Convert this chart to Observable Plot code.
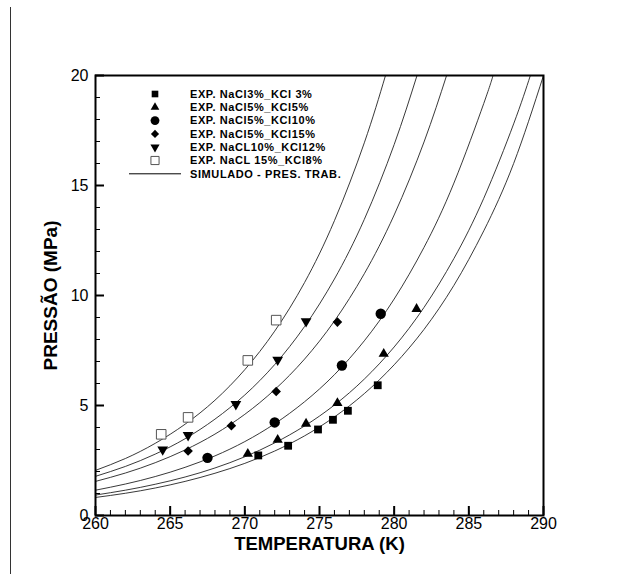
<!DOCTYPE html>
<html><head><meta charset="utf-8">
<script src="https://cdn.jsdelivr.net/npm/d3@7"></script>
<script src="https://cdn.jsdelivr.net/npm/@observablehq/plot@0.6"></script>
<style>
body{margin:0;background:#fff;}
#wrap{position:relative;width:640px;height:574px;overflow:hidden;}
#edge{position:absolute;left:10px;top:7px;width:1px;height:567px;background:#333;z-index:2;}
#chart{position:absolute;left:0;top:0;z-index:1;}
</style></head><body><div id="wrap"><div id="chart"></div><div id="edge"></div></div>
<script>
// ---- axis ticks ----
const xTicks = [260, 265, 270, 275, 280, 285, 290];
const yTicks = [0, 5, 10, 15, 20];
const xMinor = d3.range(260, 291, 1);
const yMinor = d3.range(0, 21, 1);

// ---- legend labels ----
const seriesLabels = [
  "EXP. NaCl3%_KCl 3%",
  "EXP. NaCl5%_KCl5%",
  "EXP. NaCl5%_KCl10%",
  "EXP. NaCl5%_KCl15%",
  "EXP. NaCL10%_KCl12%",
  "EXP. NaCL 15%_KCl8%"
];
const simLabel = "SIMULADO - PRES. TRAB.";

// ---- experimental points (T in K, P in MPa) ----
const T_s1 = [270.9, 272.9, 274.9, 275.9, 276.9, 278.9];
const P_s1 = [2.73, 3.17, 3.91, 4.35, 4.76, 5.92];
const T_s2 = [270.2, 272.2, 274.1, 276.2, 279.3, 281.5];
const P_s2 = [2.80, 3.44, 4.17, 5.11, 7.35, 9.39];
const T_s3 = [267.5, 272.0, 276.5, 279.1];
const P_s3 = [2.62, 4.23, 6.82, 9.17];
const T_s4 = [266.2, 269.1, 272.1, 276.2];
const P_s4 = [2.93, 4.08, 5.64, 8.79];
const T_s5 = [264.5, 266.2, 269.4, 272.2, 274.1];
const P_s5 = [3.00, 3.65, 5.06, 7.08, 8.83];
const T_s6 = [264.4, 266.2, 270.2, 272.1];
const P_s6 = [3.69, 4.46, 7.05, 8.88];

// ---- simulated curves ----
const simT_6 = [260, 262, 264, 266, 268, 270, 272, 274, 276, 278, 279.42];
const simP_6 = [2.05, 2.59, 3.28, 4.15, 5.24, 6.63, 8.38, 10.59, 13.40, 16.94, 20.0];
const simT_5 = [260, 262, 264, 266, 268, 270, 272, 274, 276, 278, 280, 281.53];
const simP_5 = [1.78, 2.23, 2.79, 3.49, 4.38, 5.48, 6.86, 8.59, 10.75, 13.46, 16.86, 20.0];
const simT_4 = [260, 262, 264, 266, 268, 270, 272, 274, 276, 278, 280, 282, 283.51];
const simP_4 = [1.55, 1.93, 2.40, 2.98, 3.70, 4.60, 5.72, 7.11, 8.84, 10.99, 13.66, 16.98, 20.0];
const simT_3 = [260, 262, 264, 266, 268, 270, 272, 274, 276, 278, 280, 282, 284, 286, 286.62];
const simP_3 = [1.15, 1.43, 1.77, 2.19, 2.71, 3.36, 4.17, 5.17, 6.40, 7.94, 9.84, 12.19, 15.11, 18.73, 20.0];
const simT_2 = [260, 262, 264, 266, 268, 270, 272, 274, 276, 278, 280, 282, 284, 286, 288, 289.12];
const simP_2 = [0.93, 1.15, 1.42, 1.75, 2.16, 2.67, 3.30, 4.07, 5.02, 6.20, 7.66, 9.46, 11.68, 14.42, 17.80, 20.0];
const simT_1 = [260, 262, 264, 266, 268, 270, 272, 274, 276, 278, 280, 282, 284, 286, 288, 290];
const simP_1 = [0.82, 1.01, 1.25, 1.55, 1.92, 2.37, 2.93, 3.62, 4.48, 5.54, 6.85, 8.46, 10.46, 12.94, 16.00, 20.0];

// ---- build tables ----
const pts = (T, P) => T.map((t, i) => ({T: t, P: P[i]}));
const expSets = [pts(T_s1, P_s1), pts(T_s2, P_s2), pts(T_s3, P_s3), pts(T_s4, P_s4), pts(T_s5, P_s5), pts(T_s6, P_s6)];
const simSets = [[simT_1, simP_1], [simT_2, simP_2], [simT_3, simP_3], [simT_4, simP_4], [simT_5, simP_5], [simT_6, simP_6]];
const simRows = simSets.flatMap(([T, P], k) => T.map((t, i) => ({T: t, P: P[i], s: k})));

// custom downward triangle
const triDown = {
  draw(ctx, size) {
    const s = Math.sqrt(4 * size / Math.sqrt(3));
    const h = s * Math.sqrt(3) / 2;
    ctx.moveTo(0, 2 * h / 3);
    ctx.lineTo(-s / 2, -h / 3);
    ctx.lineTo(s / 2, -h / 3);
    ctx.closePath();
  }
};

const styles = [
  {symbol: "square", r: 4.4, fill: "black", stroke: "none"},
  {symbol: "triangle", r: 3.8, fill: "black", stroke: "none"},
  {symbol: "circle", r: 5.2, fill: "black", stroke: "none"},
  {symbol: "diamond2", r: 4.3, fill: "black", stroke: "none"},
  {symbol: triDown, r: 4.0, fill: "black", stroke: "none"},
  {symbol: "square", r: 5.4, fill: "white", stroke: "#555"}
];

const W = 640, H = 574, mL = 95, mR = 97, mT = 75, mB = 59;
const frameW = W - mL - mR, frameH = H - mT - mB;

const chart = Plot.plot({
  width: W, height: H,
  marginLeft: mL, marginRight: mR, marginTop: mT, marginBottom: mB,
  x: {domain: [260, 290]},
  y: {domain: [0, 20]},
  style: {fontFamily: "Arial, 'Liberation Sans', sans-serif", background: "white", color: "black"},
  marks: [
    Plot.line(simRows, {x: "T", y: "P", z: "s", curve: "natural", stroke: "#222", strokeWidth: 0.9, clip: true}),
    ...expSets.map((d, k) => Plot.dot(d, {x: "T", y: "P", ...styles[k], strokeWidth: 1})),
    Plot.tickX(xMinor, {x: d => d, insetTop: frameH - 5, stroke: "black", strokeWidth: 1}),
    Plot.tickX(xTicks, {x: d => d, insetTop: frameH - 9, stroke: "black", strokeWidth: 2}),
    Plot.tickY(yMinor, {y: d => d, insetRight: frameW - 5, stroke: "black", strokeWidth: 1}),
    Plot.tickY(yTicks, {y: d => d, insetRight: frameW - 9, stroke: "black", strokeWidth: 2}),
    Plot.axisX({ticks: xTicks, tickSize: 0, tickPadding: 2, fontSize: 16, label: null}),
    Plot.axisY({ticks: yTicks, tickSize: 0, tickPadding: 7, fontSize: 16, label: null}),
    Plot.text(["TEMPERATURA (K)"], {frameAnchor: "bottom", dy: 34, fontSize: 18.5, fontWeight: "bold"}),
    Plot.text(["PRESSÃO (MPa)"], {frameAnchor: "left", dx: -45, rotate: -90, textAnchor: "middle", fontSize: 19, fontWeight: "bold"}),
    Plot.frame({stroke: "black", strokeWidth: 2})
  ]
});
document.getElementById("chart").appendChild(chart);

// ---- legend (inside frame, top-left) ----
const svg = d3.select(chart);
const lg = svg.append("g").attr("font-family", "Arial, 'Liberation Sans', sans-serif")
  .attr("font-size", 11).attr("font-weight", "bold").attr("text-anchor", "start");
const symMap = {square: d3.symbolSquare, triangle: d3.symbolTriangle, circle: d3.symbolCircle, diamond2: d3.symbolDiamond2};
const rowY = i => 94 + i * 13.3;
styles.forEach((st, i) => {
  const type = typeof st.symbol === "string" ? symMap[st.symbol] : st.symbol;
  const rr = st.r * 0.85;
  lg.append("path")
    .attr("d", d3.symbol(type, Math.PI * rr * rr)())
    .attr("transform", `translate(155,${rowY(i)})`)
    .attr("fill", st.fill).attr("stroke", st.stroke === "none" ? null : st.stroke);
  lg.append("text").attr("x", 190).attr("y", rowY(i)).attr("dy", "0.35em")
    .attr("letter-spacing", "0.6px").text(seriesLabels[i]);
});
lg.append("line").attr("x1", 129).attr("x2", 181).attr("y1", rowY(6)).attr("y2", rowY(6))
  .attr("stroke", "black").attr("stroke-width", 1);
lg.append("text").attr("x", 190).attr("y", rowY(6)).attr("dy", "0.35em")
  .attr("letter-spacing", "0.6px").text(simLabel);
</script></body></html>
